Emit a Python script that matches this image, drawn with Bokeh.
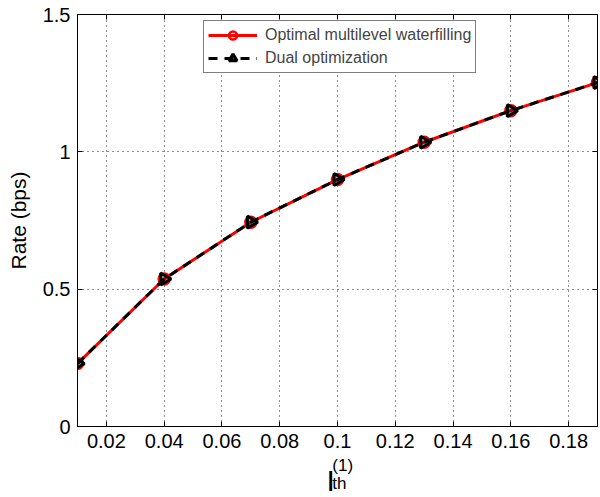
import math
from bokeh.plotting import figure
from bokeh.layouts import column
from bokeh.models import (FixedTicker, LinearAxis, Label, Legend, LegendItem, Range1d)
from bokeh.embed import file_html
from bokeh.resources import INLINE

# Data
ith = [0.01, 0.04, 0.07, 0.10, 0.13, 0.16, 0.19]
rate_waterfilling = [0.229, 0.537, 0.744, 0.899, 1.035, 1.150, 1.252]
rate_dual = [0.229, 0.537, 0.744, 0.899, 1.035, 1.150, 1.252]
x_ticks = [0.02, 0.04, 0.06, 0.08, 0.10, 0.12, 0.14, 0.16, 0.18]
x_tick_labels = ["0.02", "0.04", "0.06", "0.08", "0.1", "0.12", "0.14", "0.16", "0.18"]
y_ticks = [0, 0.5, 1.0, 1.5]
y_tick_labels = ["0", "0.5", "1", "1.5"]
legend_labels = ["Optimal multilevel waterfilling", "Dual optimization"]

FONT = "Liberation Sans"
BL, BR = 77, 3
H1, H2 = 457, 40

p = figure(width=600, height=H1, x_range=(0.01, 0.19), y_range=(0, 1.5),
           output_backend="svg", toolbar_location=None,
           min_border_left=BL, min_border_right=BR, min_border_top=14,
           min_border_bottom=H1 - 426)
p.background_fill_color = "white"
p.border_fill_color = "white"
p.outline_line_color = "black"
p.outline_line_width = 1

def tick_only(ax, ticks):
    ax.ticker = FixedTicker(ticks=ticks)
    ax.major_tick_in = 5
    ax.major_tick_out = 0
    ax.minor_tick_line_color = None
    ax.axis_line_color = "black"
    ax.major_tick_line_color = "black"
    ax.major_label_text_color = None
    ax.major_label_text_font_size = "1px"
    ax.major_label_standoff = 0

for ax, ticks, labels in ((p.xaxis[0], x_ticks, x_tick_labels), (p.yaxis[0], y_ticks, y_tick_labels)):
    ax.ticker = FixedTicker(ticks=ticks)
    ax.major_label_overrides = {t: l for t, l in zip(ticks, labels)}
    ax.major_tick_in = 5
    ax.major_tick_out = 0
    ax.minor_tick_line_color = None
    ax.axis_line_color = "black"
    ax.major_tick_line_color = "black"
    ax.major_label_text_font = FONT
    ax.major_label_text_font_size = "20px"
    ax.major_label_text_color = "black"

p.xaxis.major_label_standoff = 7
p.yaxis.major_label_standoff = 7
ya = p.yaxis[0]
ya.axis_label = "Rate (bps)"
ya.axis_label_text_font = FONT
ya.axis_label_text_font_size = "21px"
ya.axis_label_text_font_style = "normal"
ya.axis_label_text_color = "black"
ya.axis_label_standoff = 10

top = LinearAxis()
tick_only(top, x_ticks)
right = LinearAxis()
tick_only(right, y_ticks)
p.add_layout(top, "above")
p.add_layout(right, "right")

# grid
p.xgrid.ticker = FixedTicker(ticks=x_ticks)
p.ygrid.ticker = FixedTicker(ticks=y_ticks)
for g in (p.xgrid[0], p.ygrid[0]):
    g.grid_line_color = "#222222"
    g.grid_line_dash = "1 4"
    g.grid_line_width = 1

# series
l1 = p.line(ith, rate_waterfilling, line_color="red", line_width=3)
m1 = p.scatter(ith, rate_waterfilling, marker="circle", size=11, fill_color=None,
               line_color="red", line_width=2.5)
l2 = p.line(ith, rate_dual, line_color="black", line_width=3, line_dash="9 7")
m2 = p.scatter(ith, rate_dual, marker="triangle", angle=-math.pi / 2, size=12,
               fill_color="black", fill_alpha=0.35, line_color="black", line_width=3)

legend = Legend(items=[LegendItem(label=legend_labels[0], renderers=[l1, m1]),
                       LegendItem(label=legend_labels[1], renderers=[l2, m2])],
                location=(126, 353))
legend.label_text_font = FONT
legend.label_text_font_size = "16px"
legend.glyph_width = 49
legend.glyph_height = 20
legend.label_height = 20
legend.label_standoff = 8
legend.padding = 4
legend.spacing = 3
legend.margin = 0
legend.border_line_color = "black"
legend.border_line_width = 1
legend.background_fill_alpha = 1
p.add_layout(legend, "center")

# strip below: the x label I_th^(1)
p2 = figure(width=600, height=H2, x_range=p.x_range, y_range=Range1d(0, H2),
            output_backend="svg", toolbar_location=None,
            x_axis_type=None, y_axis_type=None,
            min_border_left=BL, min_border_right=BR, min_border_top=0, min_border_bottom=0)
p2.outline_line_color = None
p2.background_fill_color = "white"
p2.border_fill_color = "white"
p2.xgrid.visible = False
p2.ygrid.visible = False
for txt, xx, yy, fs in (("I", 0.0962, 17, "30px"), ("(1)", 0.0982, 32, "17px"),
                        ("th", 0.0982, 14, "17px")):
    p2.add_layout(Label(x=xx, y=yy, text=txt, text_font=FONT, text_font_size=fs,
                        text_color="black", text_align="left", text_baseline="alphabetic"))

layout = column(p, p2, spacing=0)
open("out.html", "w").write(file_html(layout, INLINE))
